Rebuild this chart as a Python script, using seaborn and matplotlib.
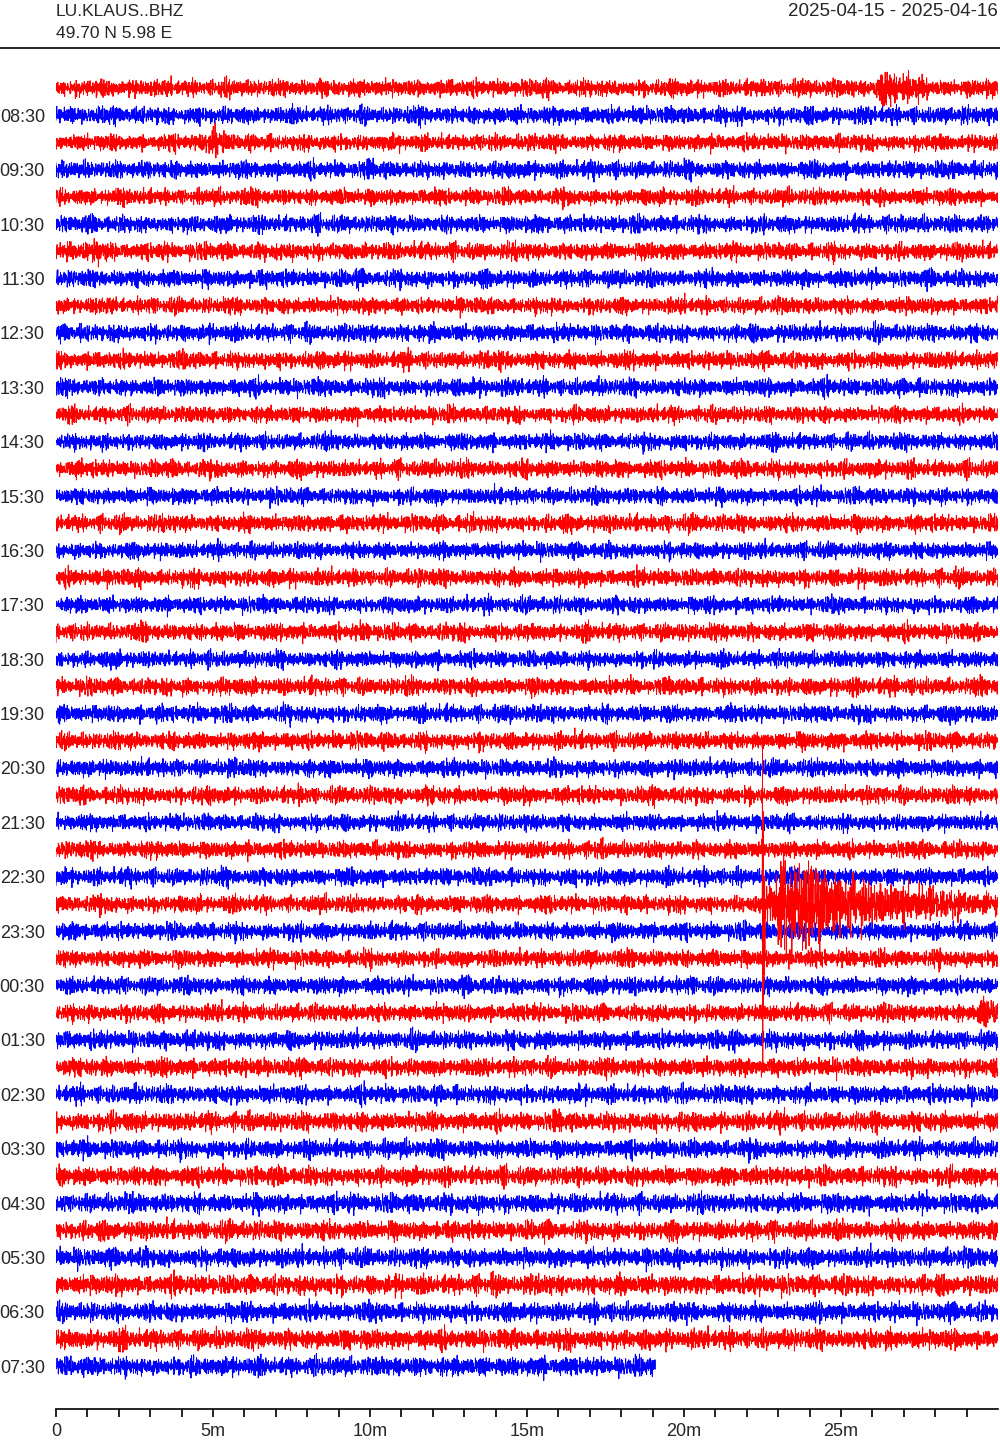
import numpy as np
import pandas as pd
import matplotlib
matplotlib.use("Agg")
import matplotlib.pyplot as plt
from matplotlib.lines import Line2D
import seaborn as sns

# === DATA ===
station = "LU.KLAUS..BHZ"
coords = "49.70 N 5.98 E"
date_range = "2025-04-15 - 2025-04-16"

# one label for every second trace (the :30 traces)
hour_labels = ["08:30", "09:30", "10:30", "11:30", "12:30", "13:30", "14:30", "15:30",
               "16:30", "17:30", "18:30", "19:30", "20:30", "21:30", "22:30", "23:30",
               "00:30", "01:30", "02:30", "03:30", "04:30", "05:30", "06:30", "07:30"]
trace_colors = ["red", "blue"]
minute_ticks = [0, 5, 10, 15, 20, 25]
minute_labels = ["0", "5m", "10m", "15m", "20m", "25m"]

# background noise level of each 30-min trace (08:00 ... 07:30)
noise_level = [1.0, 1.0, 0.95, 1.0, 0.95, 1.0, 1.0, 1.0, 0.95, 1.0, 1.0, 1.0,
               0.95, 0.95, 1.0, 0.95, 1.0, 0.95, 1.0, 0.95, 1.0, 0.95, 1.0, 1.0,
               1.0, 1.0, 1.0, 0.95, 1.0, 1.0, 1.0, 1.0, 1.0, 1.0, 1.0, 1.05,
               1.05, 1.05, 1.1, 1.05, 1.1, 1.1, 1.1, 1.1, 1.15, 1.1, 1.15, 1.1]
last_trace_minutes = 19.1
samples_per_minute = 120

# hand-typed wiggle shapes
noise_a = [0.12, -0.45, 0.78, -0.31, 0.05, 0.52, -0.88, 0.27, -0.14, 0.63, -0.57, 0.09,
           0.41, -0.22, -0.69, 0.35, 0.94, -0.48, 0.18, -0.05, 0.58, -0.76, 0.23, -0.37,
           0.66, 0.02, -0.53, 0.31, -0.97, 0.44, 0.15, -0.26, 0.71, -0.62, 0.08, 0.39,
           -0.18, -0.84, 0.55, 0.21, -0.41, 0.67, -0.09, -0.58, 0.33, 0.86, -0.35, 0.11,
           -0.72, 0.47, -0.16, 0.28, -0.51]
noise_b = [-0.33, 0.61, -0.12, 0.47, -0.79, 0.25, 0.04, -0.56, 0.88, -0.19, 0.36, -0.64,
           0.13, 0.72, -0.43, -0.07, 0.51, -0.91, 0.29, 0.16, -0.38, 0.83, -0.24, 0.42,
           -0.68, 0.06, 0.57, -0.15, -0.49, 0.74, -0.29, 0.19, -0.82, 0.37, 0.64, -0.11,
           -0.59, 0.26, 0.48, -0.73, 0.14]
noise_swell = [1.0, 0.85, 1.15, 0.9, 1.3, 0.95, 0.8, 1.1, 1.2, 0.9, 1.0, 1.25,
               0.85, 0.95, 1.1, 0.8, 1.05, 1.35, 0.9, 1.0, 1.15, 0.85, 1.05]

# events: trace index, start minute, amplitude per 10 s block
event_trace = [0, 2, 6, 30, 34]
event_start = [26.0, 4.55, 0.85, 22.5, 29.45]
event_env = [
    [0.35, 0.45, 0.9, 0.5, 0.35, 0.5, 0.55, 0.5, 0.45, 0.35, 0.3],
    [0.2, 0.35, 0.5, 0.55, 0.35, 0.2],
    [0.25, 0.35, 0.4, 0.3, 0.35, 0.25],
    [1.3, 1.0, 1.0, 2.0, 2.1, 2.0, 1.6, 1.9, 1.8, 1.9, 1.9, 1.5, 1.3, 1.4, 1.15,
     1.25, 1.15, 1.05, 1.0, 0.95, 1.0, 0.9, 0.85, 0.8, 0.8, 0.75, 0.75, 0.7, 0.65,
     0.65, 0.6, 0.6, 0.55, 0.55, 0.5, 0.5, 0.45, 0.45, 0.4, 0.4, 0.4, 0.35, 0.35,
     0.35, 0.35],
    [0.6, 0.45, 0.5, 0.45, 0.5, 0.45],
]
quake_trace = 30
quake_spike = [5.75, -6.0, 3.4, -3.9, 1.1, -2.9, 0.9, -2.6, 1.0, -2.0]

# === BUILD TRACES ===
A = np.array(noise_a)
B = np.array(noise_b)
C = np.repeat(noise_swell, 37)
n_full = 30 * samples_per_minute
block = samples_per_minute // 6

frames = []
for i, lvl in enumerate(noise_level):
    n = n_full if i < len(noise_level) - 1 else int(last_trace_minutes * samples_per_minute)
    k = np.arange(n)
    amp = (A[(k + 13 * i) % len(A)] + B[(3 * k + 7 * i) % len(B)]) * C[(k + 101 * i) % len(C)] * 0.2 * lvl
    for t, s, env in zip(event_trace, event_start, event_env):
        if t != i:
            continue
        s0 = int(round(s * samples_per_minute))
        env_rep = np.repeat(env, block)[: n - s0]
        kk = np.arange(s0, s0 + len(env_rep))
        amp[s0:s0 + len(env_rep)] += env_rep * 0.6 * (A[(7 * kk) % len(A)] - B[(kk + 5) % len(B)])
        if i == quake_trace:
            amp[s0:s0 + len(quake_spike)] = quake_spike
    frames.append(pd.DataFrame({"minute": k / samples_per_minute,
                                "y": -i + amp, "trace": i}))

# === PLOT ===
sns.set_theme(style="white")
plt.rcParams['font.family'] = ['Liberation Sans', 'DejaVu Sans']

fig = plt.figure(figsize=(10, 14.4), dpi=100)
ax = fig.add_axes([0.056, 0.0215, 0.942, 0.9368])

for i, df in enumerate(frames):
    sns.lineplot(data=df, x="minute", y="y", color=trace_colors[i % 2], lw=0.7,
                 estimator=None, sort=False, ax=ax, zorder=5 if i == quake_trace else 2)

ax.set_xlim(0, 30)
ax.set_ylim(-48.57, 1.03)
ax.set_xlabel("")
ax.set_ylabel("")
for side in ["top", "right", "left"]:
    ax.spines[side].set_visible(False)
ax.spines["bottom"].set_color("black")
ax.spines["bottom"].set_linewidth(1.2)

ax.set_xticks(minute_ticks)
ax.set_xticklabels(minute_labels)
ax.set_xticks(range(30), minor=True)
ax.tick_params(axis="x", which="both", direction="out", length=6, width=1.2,
               color="black", bottom=True, labelsize=13, pad=4)
ax.set_yticks([-(2 * j + 1) for j in range(len(hour_labels))])
ax.set_yticklabels(hour_labels)
ax.tick_params(axis="y", length=0, labelsize=13, pad=8)

fig.text(0.056, 1 - 11 / 1440, station, va="center", ha="left", fontsize=12.5)
fig.text(0.056, 1 - 33 / 1440, coords, va="center", ha="left", fontsize=12.5)
fig.text(0.998, 1 - 11 / 1440, date_range, va="center", ha="right", fontsize=13.5)
fig.add_artist(Line2D([0, 1], [1 - 48 / 1440] * 2, color="black", lw=1.2))

fig.savefig("out.png", dpi=100, facecolor="white")
